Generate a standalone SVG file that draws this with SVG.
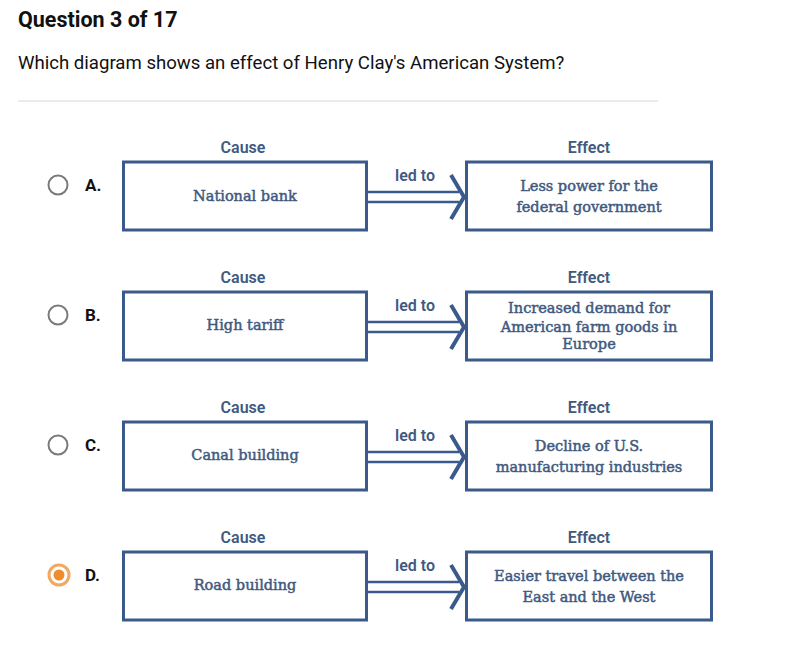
<svg xmlns="http://www.w3.org/2000/svg" width="800" height="658" viewBox="0 0 800 658">
<style>
.hdr{font-family:Roboto,"Liberation Sans",sans-serif;fill:#111}
.lbl{font-family:Roboto,"Liberation Sans",sans-serif;font-size:16px;font-weight:600;fill:#3f5a80;text-anchor:middle}
.box{fill:#fff;stroke:#3a5a8c;stroke-width:3}
.body{font-family:"DejaVu Serif","Liberation Serif",serif;font-size:14.5px;fill:#3f5a80;text-anchor:middle;stroke:#3f5a80;stroke-width:0.5}
.shaft{stroke:#3a5a8c;stroke-width:2.5;fill:none}
.head{stroke:#3a5a8c;stroke-width:4;fill:none;stroke-linejoin:miter}
.radio{fill:#fff;stroke:#7a7a7a;stroke-width:2}
.letter{font-family:Roboto,"Liberation Sans",sans-serif;font-size:17px;font-weight:700;fill:#111}
</style>
<rect width="800" height="658" fill="#fff"/>
<text class="hdr" x="18" y="27" font-size="21.5" font-weight="700">Question 3 of 17</text>
<text class="hdr" x="18" y="69" font-size="18.6">Which diagram shows an effect of Henry Clay's American System?</text>
<line x1="18" y1="101" x2="658" y2="101" stroke="#e4e4e4" stroke-width="1.5"/>

<g id="optA">
<circle class="radio" cx="58" cy="185" r="9.5"/>
<text class="letter" x="85" y="191">A.</text>
</g>
<g id="optB">
<circle class="radio" cx="58" cy="315" r="9.5"/>
<text class="letter" x="85" y="321">B.</text>
</g>
<g id="optC">
<circle class="radio" cx="58" cy="445" r="9.5"/>
<text class="letter" x="85" y="451">C.</text>
</g>
<g id="optD">
<circle cx="59" cy="575" r="10" fill="#fff" stroke="#f2a862" stroke-width="3"/>
<circle cx="59" cy="575" r="5.5" fill="#ef8c2c"/>
<text class="letter" x="85" y="581">D.</text>
</g>

<g id="causeA">
<text class="lbl" x="243" y="153">Cause</text>
<rect class="box" x="123.5" y="162" width="243" height="68"/>
<text class="body" x="245" y="201">National bank</text>
</g>
<g id="effectA">
<text class="lbl" x="589" y="153">Effect</text>
<rect class="box" x="466.5" y="162" width="245" height="68"/>
<text class="body" x="589" y="191">Less power for the</text>
<text class="body" x="589" y="212">federal government</text>
</g>

<g id="causeB">
<text class="lbl" x="243" y="283">Cause</text>
<rect class="box" x="123.5" y="292" width="243" height="68"/>
<text class="body" x="245" y="330">High tariff</text>
</g>
<g id="effectB">
<text class="lbl" x="589" y="283">Effect</text>
<rect class="box" x="466.5" y="292" width="245" height="68"/>
<text class="body" x="589" y="313">Increased demand for</text>
<text class="body" x="589" y="332">American farm goods in</text>
<text class="body" x="589" y="349">Europe</text>
</g>

<g id="causeC">
<text class="lbl" x="243" y="413">Cause</text>
<rect class="box" x="123.5" y="422" width="243" height="68"/>
<text class="body" x="245" y="460">Canal building</text>
</g>
<g id="effectC">
<text class="lbl" x="589" y="413">Effect</text>
<rect class="box" x="466.5" y="422" width="245" height="68"/>
<text class="body" x="589" y="451">Decline of U.S.</text>
<text class="body" x="589" y="472">manufacturing industries</text>
</g>

<g id="causeD">
<text class="lbl" x="243" y="543">Cause</text>
<rect class="box" x="123.5" y="552" width="243" height="68"/>
<text class="body" x="245" y="590">Road building</text>
</g>
<g id="effectD">
<text class="lbl" x="589" y="543">Effect</text>
<rect class="box" x="466.5" y="552" width="245" height="68"/>
<text class="body" x="589" y="581">Easier travel between the</text>
<text class="body" x="589" y="602">East and the West</text>
</g>

<g id="connectors">
<g id="arrowA">
<text class="lbl" x="415" y="181">led to</text>
<path class="shaft" d="M367 192H459M367 202H459"/>
<path class="head" d="M451 175L464 197L451 219"/>
</g>
<g id="arrowB">
<text class="lbl" x="415" y="311">led to</text>
<path class="shaft" d="M367 322H459M367 332H459"/>
<path class="head" d="M451 305L464 327L451 349"/>
</g>
<g id="arrowC">
<text class="lbl" x="415" y="441">led to</text>
<path class="shaft" d="M367 452H459M367 462H459"/>
<path class="head" d="M451 435L464 457L451 479"/>
</g>
<g id="arrowD">
<text class="lbl" x="415" y="571">led to</text>
<path class="shaft" d="M367 582H459M367 592H459"/>
<path class="head" d="M451 565L464 587L451 609"/>
</g>
</g>
</svg>
